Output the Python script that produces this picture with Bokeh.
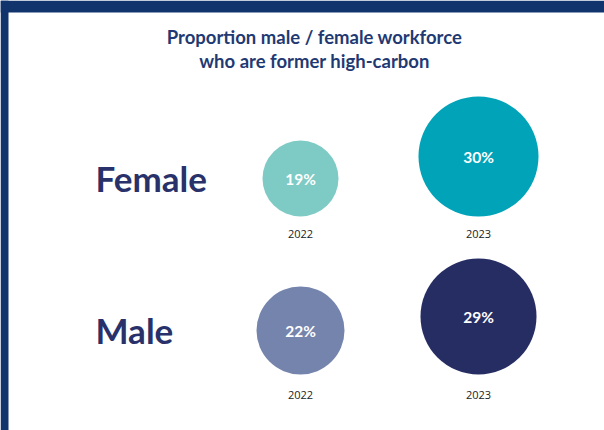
from bokeh.plotting import figure
from bokeh.models import Range1d, ColumnDataSource
from bokeh.core.properties import value
from bokeh.embed import file_html
from bokeh.resources import INLINE

# ---- data ----
title_lines = ["Proportion male / female workforce", "who are former high-carbon"]
genders = ["Female", "Male"]
years = ["2022", "2023"]
female_pct = [19, 30]
male_pct = [22, 29]
female_colors = ["#7ecac4", "#00a3b8"]
male_colors = ["#7584ad", "#262d63"]

# ---- layout constants (pixels) ----
W, H = 604, 430
col_x = [300, 478]          # column centres for 2022 / 2023
row_base = [216, 374]       # bottom of circles per row
row_label_y = [177, 329]    # gender label centre
year_label_y = [233, 394]
r_scale = 2.0               # radius px per percent point
FONT = "Lato"

p = figure(width=W, height=H, output_backend="svg", toolbar_location=None,
           x_range=Range1d(0, W), y_range=Range1d(H, 0),
           min_border=0, outline_line_color=None)
p.axis.visible = False
p.grid.visible = False
p.background_fill_color = "white"
p.border_fill_color = "white"

# frame bands
p.quad(left=[0], right=[W], top=[0], bottom=[12], fill_color="#12346c", line_color=None)
p.quad(left=[0], right=[8], top=[0], bottom=[H], fill_color="#12346c", line_color=None)

# title
p.text(x=[314, 314], y=[36, 60], text=title_lines, text_align="center",
       text_baseline="middle", text_font=value(FONT), text_font_style="bold",
       text_font_size="18.5px", text_color="#1f3a73")

rows = [female_pct, male_pct]
cols = [female_colors, male_colors]
for i, g in enumerate(genders):
    vals = rows[i]
    radii = [v * r_scale for v in vals]
    cy = [row_base[i] - r for r in radii]
    src = ColumnDataSource(dict(x=col_x, y=cy, r=radii, c=cols[i],
                                lab=[f"{v}%" for v in vals]))
    p.circle(x="x", y="y", radius="r", fill_color="c", line_color=None, source=src)
    p.text(x="x", y="y", text="lab", source=src, text_align="center",
           text_baseline="middle", text_font=value(FONT), text_font_style="bold",
           text_font_size="15.5px", text_color="white")
    p.text(x=col_x, y=[year_label_y[i]] * 2, text=years, text_align="center",
           text_baseline="middle", text_font=value("Open Sans"), text_font_size="11px",
           text_color="#222222")
    p.text(x=[95], y=[row_label_y[i]], text=[g], text_align="left",
           text_baseline="middle", text_font=value(FONT), text_font_style="bold",
           text_font_size="35px", text_color="#29316a")

open("out.html", "w").write(file_html(p, INLINE))
